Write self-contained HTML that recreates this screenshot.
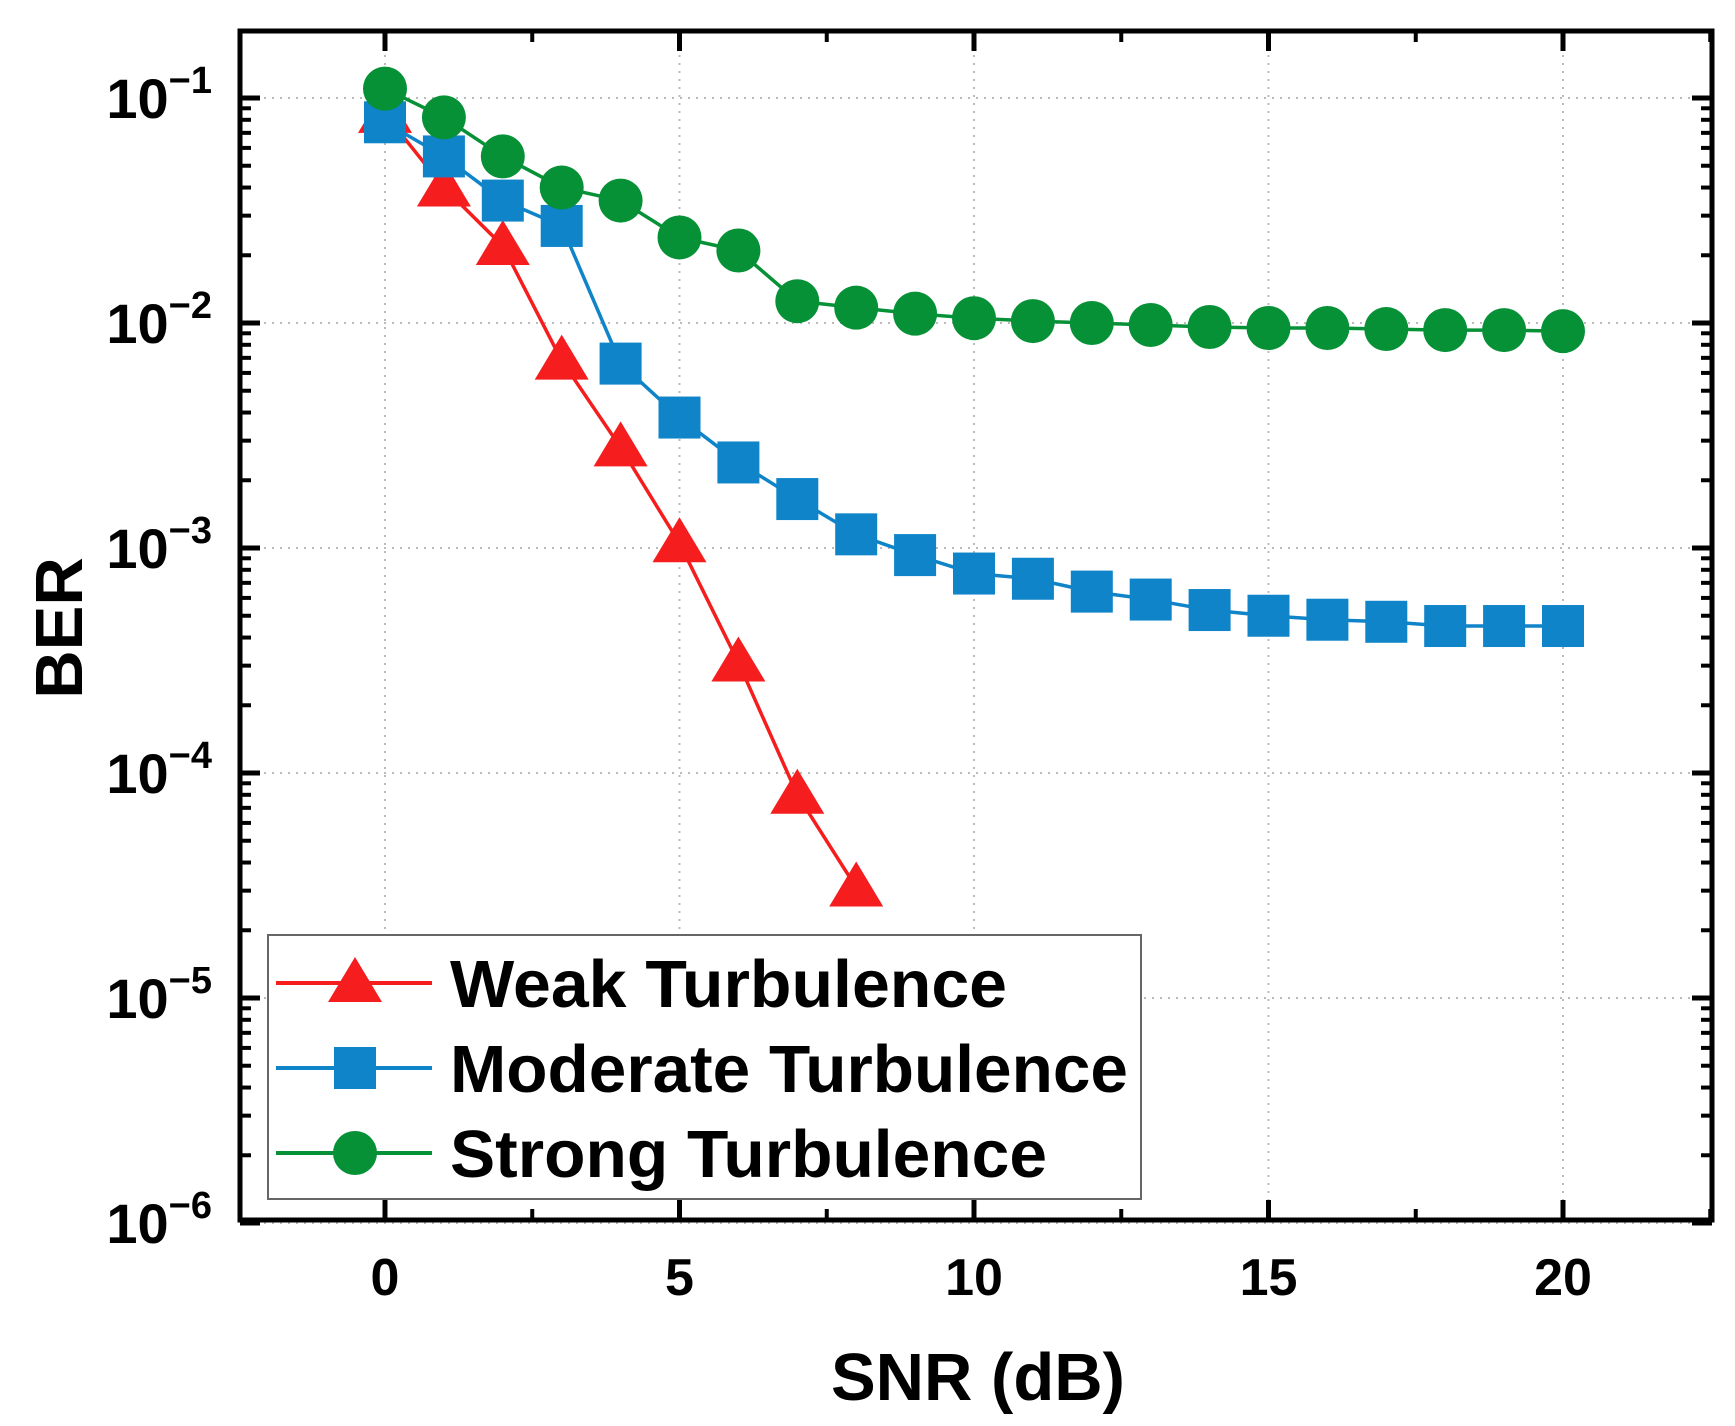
<!DOCTYPE html>
<html><head><meta charset="utf-8"><style>
html,body{margin:0;padding:0;background:#fff;}
svg{display:block;font-family:"Liberation Sans",Arial,sans-serif;font-weight:bold;}
</style></head><body>
<svg id="chart" width="1735" height="1426" viewBox="0 0 1735 1426">
<g id="grid"></g>
<g id="axes"></g>
<g id="series"></g>
<text x="978" y="1400" font-size="67" text-anchor="middle">SNR (dB)</text>
<text transform="translate(82,628) rotate(-90)" font-size="67" text-anchor="middle">BER</text>
<g id="legend"></g>
</svg>
<script>
const snr = [0,1,2,3,4,5,6,7,8,9,10,11,12,13,14,15,16,17,18,19,20];
const weakBER = [0.085,0.04,0.022,0.0068,0.0028,0.00105,0.00031,0.00008,0.000031];
const moderateBER = [0.078,0.055,0.035,0.027,0.0066,0.0038,0.0024,0.00165,0.00115,0.00093,0.00077,0.00073,0.00064,0.00059,0.00053,0.0005,0.00048,0.00047,0.00045,0.00045,0.00045];
const strongBER = [0.11,0.082,0.055,0.04,0.035,0.024,0.021,0.0125,0.0117,0.011,0.0105,0.0102,0.01,0.0098,0.0096,0.0095,0.0095,0.0094,0.0093,0.0093,0.0092];
const xTicks = [0,5,10,15,20];
const yExponents = [-1,-2,-3,-4,-5,-6];
const seriesNames = ["Weak Turbulence","Moderate Turbulence","Strong Turbulence"];

const NS="http://www.w3.org/2000/svg";
const L=240,R=1712,T=31,B=1220;
const X=v=>385+(v-0)*(1563-385)/20;
const Y=v=>98+(-1-Math.log10(v))*225;
function mk(tag,attrs,parent){const e=document.createElementNS(NS,tag);for(const k in attrs)e.setAttribute(k,attrs[k]);parent.appendChild(e);return e;}
const grid=document.getElementById('grid'),axes=document.getElementById('axes'),ser=document.getElementById('series'),leg=document.getElementById('legend');

xTicks.forEach(t=>{
  const g=mk('line',{x1:X(t),x2:X(t),y1:T,y2:B,stroke:'#bbb','stroke-width':2,'stroke-dasharray':'2,6'},grid);
  
  
  [[B,B-20],[T,T+20]].forEach(p=>{const tk=mk('line',{x1:X(t),x2:X(t),y1:p[0],y2:p[1],stroke:'#000','stroke-width':5},axes);
    
    });
  const lb=mk('text',{x:X(t),y:1295,'font-size':52,'text-anchor':'middle'},axes);lb.textContent=t;
  
  
});
for(let t=-2.5;t<=22.5;t+=5){ if(X(t)<=L||X(t)>=R)continue;
  [[B,B-11],[T,T+11]].forEach(p=>{const tk=mk('line',{x1:X(t),x2:X(t),y1:p[0],y2:p[1],stroke:'#000','stroke-width':4},axes);
  
  });
}
yExponents.forEach(e=>{
  const y=Y(Math.pow(10,e));
  const g=mk('line',{x1:L,x2:R,y1:y,y2:y,stroke:'#bbb','stroke-width':2,'stroke-dasharray':'2,6'},grid);
  
  
  [[L,L+20],[R,R-20]].forEach(p=>{const tk=mk('line',{x1:p[0],x2:p[1],y1:y,y2:y,stroke:'#000','stroke-width':5},axes);
    
    });
  const lb=mk('text',{x:212,y:y+20,'font-size':56,'text-anchor':'end'},axes);
  
  
  const t1=mk('tspan',{},lb);t1.textContent='10';
  const t2=mk('tspan',{'font-size':38,dy:-25},lb);t2.textContent='\u2212'+(-e);
  if(e>-6){for(let m=2;m<=9;m++){const yy=Y(m*Math.pow(10,e-1));
    [[L,L+11],[R,R-11]].forEach(p=>{const tk=mk('line',{x1:p[0],x2:p[1],y1:yy,y2:yy,stroke:'#000','stroke-width':4},axes);
    
    });}}
});
const fr=mk('rect',{x:L,y:T,width:R-L,height:B-T,fill:'none',stroke:'#000','stroke-width':5},axes);



function marker(kind,x,y,color,parent){
  let e;
  if(kind==='tri') e=mk('polygon',{points:`${x},${y-26} ${x-27},${y+19} ${x+27},${y+19}`,fill:color},parent);
  else if(kind==='sq') e=mk('rect',{x:x-21,y:y-21,width:42,height:42,fill:color},parent);
  else e=mk('circle',{cx:x,cy:y,r:22,fill:color},parent);
  return e;
}
const defs=[[weakBER,'#f51d1d','tri','weak'],[moderateBER,'#0f84c8','sq','moderate'],[strongBER,'#069137','circ','strong']];
defs.forEach(([vals,c,k,n])=>{
  const pts=vals.map((v,i)=>X(snr[i])+','+Y(v)).join(' ');
  const pl=mk('polyline',{points:pts,fill:'none',stroke:c,'stroke-width':3.5},ser);
  
  
});
defs.forEach(([vals,c,k,n])=>{
  vals.forEach((v,i)=>{const m=marker(k,X(snr[i]),Y(v),c,ser);
    
    });
});
const lbox=mk('rect',{x:268,y:935,width:873,height:264,fill:'#fff',stroke:'#666','stroke-width':2},leg);


defs.forEach(([vals,c,k,n],i)=>{
  const y=983+i*85;
  const ln=mk('line',{x1:276,x2:432,y1:y,y2:y,stroke:c,'stroke-width':4},leg);
  
  
  const m=marker(k,355,y,c,leg);
  
  
  const t=mk('text',{x:450,y:y+24,'font-size':67,textLength:i===0?557:(i===1?678:597),lengthAdjust:'spacingAndGlyphs'},leg);t.textContent=seriesNames[i];
  
  
});
</script>
</body></html>
